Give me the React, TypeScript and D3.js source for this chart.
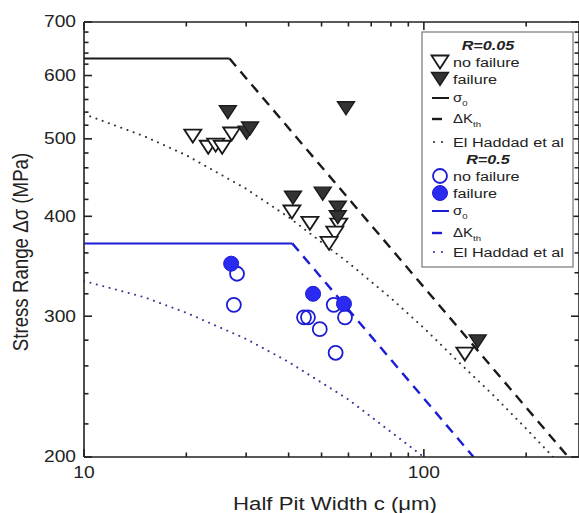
import React from 'react';
import * as d3 from 'd3';

// R=0.05 specimens (half pit width c in µm, stress range in MPa)
const r005NoFailure: [number, number][] = [
  [20.9, 504], [23.2, 488], [24.4, 491], [25.5, 488], [27.2, 507],
  [40.9, 405], [46.2, 392], [56.2, 390], [54.7, 381], [52.6, 370], [132, 269],
];
const r005Failure: [number, number][] = [
  [26.5, 540], [30.1, 509], [30.8, 515], [41.2, 422], [50.4, 427],
  [55.8, 410], [55.8, 399], [59, 546], [144, 279],
];

// R=0.5 specimens
const r05NoFailure: [number, number][] = [
  [28.2, 339], [27.6, 310], [44.4, 299], [45.6, 299], [49.4, 289],
  [54.3, 310], [58.6, 299], [55, 270],
];
const r05Failure: [number, number][] = [
  [27.1, 349], [47.2, 320], [58.2, 311],
];

// model lines
const sigma0Black: [number, number][] = [[10, 630], [26.8, 630]];
const dKthBlack: [number, number][] = [[26.8, 630], [266, 200]];
const haddadBlack: [number, number][] = [
  [10, 537], [15, 504], [20, 477], [30, 433], [40, 399], [60, 350],
  [80, 316], [100, 290], [130, 260], [160, 239], [200, 217], [240, 200],
];
const sigma0Blue: [number, number][] = [[10, 370], [41, 370]];
const dKthBlue: [number, number][] = [[41, 370], [140, 200]];
const haddadBlue: [number, number][] = [
  [10, 332], [15, 317], [20, 303], [30, 281], [40, 263], [60, 236],
  [80, 215], [100, 200],
];

const xMajor = [10, 100];
const xMinor = [20, 30, 40, 50, 60, 70, 80, 90, 200];
const yMajor = [200, 300, 400, 500, 600, 700];
const yMinor = d3.range(220, 700, 20).filter((v) => v % 100 !== 0);

const BLACK = '#1a1a1a';
const BLUE = '#1c1cd6';
const FONT = '"Liberation Sans", Arial, Helvetica, sans-serif';
const SX = 1.2; // the original figure is a bit stretched sideways

const left = 84, right = 580, top = 22, bottom = 457;

const x = d3.scaleLog().domain([10, 288]).range([left, right]);
const y = d3.scaleLog().domain([200, 700]).range([bottom, top]);

const line = d3.line<[number, number]>().x((d) => x(d[0])).y((d) => y(d[1]));

const triDown = (cx: number, cy: number) =>
  `M${cx - 8.5},${cy - 6.5}L${cx + 8.5},${cy - 6.5}L${cx},${cy + 6.5}Z`;

const Sub = ({ t }: { t: string }) => (
  <tspan fontSize={8} dy={5}>{t}</tspan>
);

// horizontally stretched text
const T = ({ x, y, anchor = 'start', size, children, bold = false }: any) => (
  <text transform={`translate(${x},${y}) scale(${SX},1)`} textAnchor={anchor} fontSize={size}
    dominantBaseline="central" fontWeight={bold ? 'bold' : 'normal'} fontStyle={bold ? 'italic' : 'normal'}>
    {children}
  </text>
);

export default function App() {
  const lx = 440; // legend symbol centre
  const tx = 453; // legend text start
  return (
    <svg width={579} height={513} style={{ position: 'absolute', left: 0, top: 0, background: '#fff' }}
      fontFamily={FONT}>
      <defs>
        <clipPath id="plot">
          <rect x={left} y={top} width={right - left} height={bottom - top} />
        </clipPath>
      </defs>

      <g clipPath="url(#plot)" fill="none">
        <path d={line(sigma0Black)!} stroke={BLACK} strokeWidth={2} />
        <path d={line(dKthBlack)!} stroke={BLACK} strokeWidth={2.4} strokeDasharray="10 7" />
        <path d={line(haddadBlack)!} stroke="#333" strokeWidth={2} strokeDasharray="0.1 6.5" strokeLinecap="round" />
        <path d={line(sigma0Blue)!} stroke={BLUE} strokeWidth={2} />
        <path d={line(dKthBlue)!} stroke={BLUE} strokeWidth={2.4} strokeDasharray="10 7" />
        <path d={line(haddadBlue)!} stroke="#3a3a9a" strokeWidth={2} strokeDasharray="0.1 6.5" strokeLinecap="round" />
      </g>

      {/* axes frame */}
      <g stroke="#222" strokeWidth={1.6} fill="none">
        <line x1={left} x2={right} y1={bottom} y2={bottom} />
        <line x1={left} x2={right} y1={top} y2={top} />
        <line x1={left} x2={left} y1={top} y2={bottom} />
        <line x1={right - 1} x2={right - 1} y1={top} y2={bottom} />
        {xMajor.map((v) => (
          <g key={'xM' + v}>
            <line x1={x(v)} x2={x(v)} y1={bottom} y2={bottom - 8} />
            <line x1={x(v)} x2={x(v)} y1={top} y2={top + 8} />
          </g>
        ))}
        {xMinor.map((v) => (
          <g key={'xm' + v}>
            <line x1={x(v)} x2={x(v)} y1={bottom} y2={bottom - 4.5} />
            <line x1={x(v)} x2={x(v)} y1={top} y2={top + 4.5} />
          </g>
        ))}
        {yMajor.map((v) => (
          <g key={'yM' + v}>
            <line x1={left} x2={left + 8} y1={y(v)} y2={y(v)} />
            <line x1={right - 1} x2={right - 9} y1={y(v)} y2={y(v)} />
          </g>
        ))}
        {yMinor.map((v) => (
          <g key={'ym' + v}>
            <line x1={left} x2={left + 4.5} y1={y(v)} y2={y(v)} />
            <line x1={right - 1} x2={right - 5.5} y1={y(v)} y2={y(v)} />
          </g>
        ))}
      </g>

      {/* tick labels */}
      <g fill="#222">
        {yMajor.map((v) => (
          <T key={'yl' + v} x={left - 8} y={y(v)} anchor="end" size={16}>{v}</T>
        ))}
        {xMajor.map((v) => (
          <T key={'xl' + v} x={x(v)} y={bottom + 16} anchor="middle" size={16}>{v}</T>
        ))}
        <T x={335} y={504} anchor="middle" size={18.5}>Half Pit Width c (μm)</T>
        <text transform={`translate(28,252) scale(${SX},1) rotate(-90)`} fontSize={18.7} textAnchor="middle">
          Stress Range Δσ (MPa)
        </text>
      </g>

      {/* data points */}
      <g>
        {r005NoFailure.map((d, i) => (
          <path key={'on' + i} d={triDown(x(d[0]), y(d[1]))} fill="#fff" stroke={BLACK} strokeWidth={1.8} />
        ))}
        {r005Failure.map((d, i) => (
          <path key={'of' + i} d={triDown(x(d[0]), y(d[1]))} fill="#333" stroke={BLACK} strokeWidth={1.4} />
        ))}
        {r05NoFailure.map((d, i) => (
          <circle key={'cn' + i} cx={x(d[0])} cy={y(d[1])} r={7} fill="none" stroke={BLUE} strokeWidth={1.8} />
        ))}
        {r05Failure.map((d, i) => (
          <circle key={'cf' + i} cx={x(d[0])} cy={y(d[1])} r={7.5} fill="#2a2af0" stroke={BLUE} strokeWidth={1} />
        ))}
      </g>

      {/* legend */}
      <g fill="#222">
        <rect x={422} y={32} width={151} height={235} fill="#fff" stroke="#777" strokeWidth={1.2} />
        <T x={488} y={45} anchor="middle" size={13.5} bold>R=0.05</T>
        <path d={triDown(lx, 62)} fill="#fff" stroke={BLACK} strokeWidth={1.8} />
        <T x={tx} y={62} size={13.5}>no failure</T>
        <path d={triDown(lx, 79)} fill="#333" stroke={BLACK} strokeWidth={1.4} />
        <T x={tx} y={79} size={13.5}>failure</T>
        <line x1={432} x2={449} y1={98} y2={98} stroke={BLACK} strokeWidth={2} />
        <T x={tx} y={98} size={12.5}>σ<Sub t="0" /></T>
        <line x1={432} x2={442} y1={119} y2={119} stroke={BLACK} strokeWidth={2.4} />
        <T x={tx} y={119} size={12.5}>ΔK<Sub t="th" /></T>
        <circle cx={434} cy={142} r={1.1} fill="#333" />
        <circle cx={442} cy={142} r={1.1} fill="#333" />
        <T x={tx} y={142} size={13.5}>El Haddad et al</T>

        <T x={488} y={159} anchor="middle" size={13.5} bold>R=0.5</T>
        <circle cx={lx} cy={176} r={7} fill="none" stroke={BLUE} strokeWidth={1.8} />
        <T x={tx} y={176} size={13.5}>no failure</T>
        <circle cx={lx} cy={193} r={7.5} fill="#2a2af0" stroke={BLUE} strokeWidth={1} />
        <T x={tx} y={193} size={13.5}>failure</T>
        <line x1={432} x2={449} y1={211} y2={211} stroke={BLUE} strokeWidth={2} />
        <T x={tx} y={211} size={12.5}>σ<Sub t="0" /></T>
        <line x1={432} x2={442} y1={233} y2={233} stroke={BLUE} strokeWidth={2.4} />
        <T x={tx} y={233} size={12.5}>ΔK<Sub t="th" /></T>
        <circle cx={434} cy={252} r={1.1} fill="#3a3a9a" />
        <circle cx={442} cy={252} r={1.1} fill="#3a3a9a" />
        <T x={tx} y={252} size={13.5}>El Haddad et al</T>
      </g>
    </svg>
  );
}
